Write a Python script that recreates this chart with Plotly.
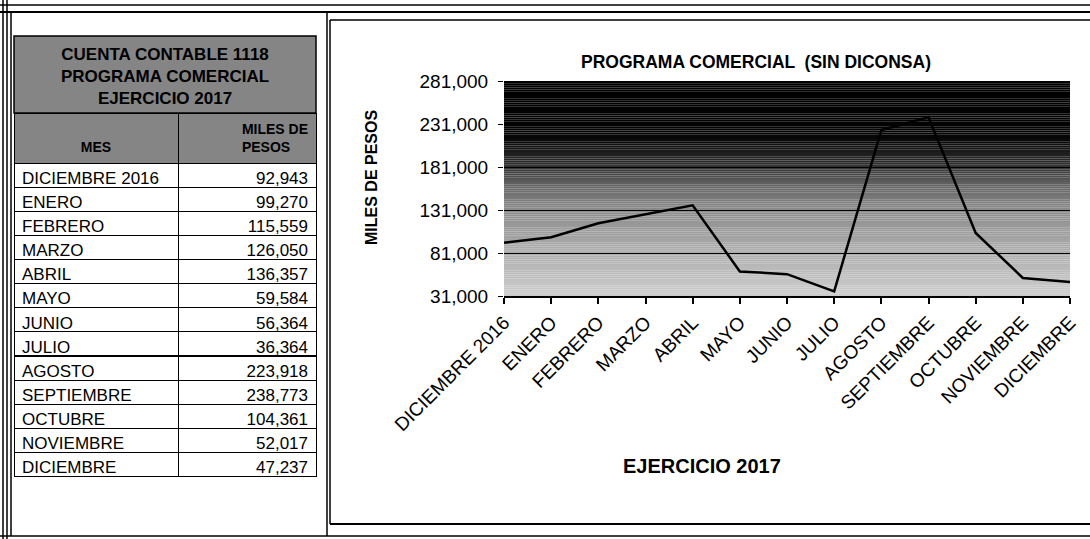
import plotly.graph_objects as go

W, H = 1090, 539

meses = ["DICIEMBRE 2016", "ENERO", "FEBRERO", "MARZO", "ABRIL", "MAYO", "JUNIO",
         "JULIO", "AGOSTO", "SEPTIEMBRE", "OCTUBRE", "NOVIEMBRE", "DICIEMBRE"]
miles_pesos = [92943, 99270, 115559, 126050, 136357, 59584, 56364,
               36364, 223918, 238773, 104361, 52017, 47237]
y_ticks = [31000, 81000, 131000, 181000, 231000, 281000]

FONT = "Liberation Sans, Arial, sans-serif"


def px(x):
    return x / W


def py(y):
    return 1 - y / H


fig = go.Figure()

# ---- table (left) ----
fig.add_trace(go.Table(
    domain=dict(x=[px(14), px(316)], y=[py(483), py(113)]),
    columnwidth=[164, 138],
    header=dict(
        values=["&nbsp;<br><b>MES</b>", "<b>MILES DE<br>PESOS</b>"],
        align=["center", "right"],
        fill_color="#858585",
        line=dict(color="black", width=1),
        font=dict(family=FONT, size=14, color="black"),
        height=47,
    ),
    cells=dict(
        values=[meses, [f"{v:,}" for v in miles_pesos]],
        align=["left", "right"],
        fill_color="white",
        line=dict(color="black", width=1),
        font=dict(family=FONT, size=17, color="black"),
        height=24.1,
    ),
))

# ---- line chart (right) ----
fig.add_trace(go.Scatter(
    x=list(range(len(meses))), y=miles_pesos, mode="lines",
    line=dict(color="black", width=2.5), showlegend=False, hoverinfo="skip",
))

fig.update_xaxes(
    domain=[px(504), px(1070)], range=[0, len(meses) - 1], automargin=False,
    tickvals=list(range(len(meses))), ticktext=meses, tickangle=-45,
    ticks="outside", ticklen=6, tickcolor="black", tickwidth=1.5,
    showline=True, linecolor="black", linewidth=2, showgrid=False, zeroline=False,
    tickfont=dict(family=FONT, size=19, color="black"),
)
fig.update_yaxes(
    domain=[py(296), py(81)], range=[31000, 281000], automargin=False,
    tickvals=y_ticks, tickformat=",d", ticklabelstandoff=6,
    ticks="outside", ticklen=5, tickcolor="black",
    showline=False, showgrid=True, gridcolor="black", gridwidth=1.2, zeroline=False,
    tickfont=dict(family=FONT, size=19, color="black"),
)

shapes = []
# gradient background of the plot area (decoration)
stops = [(31000, 205), (81000, 175), (131000, 140), (160000, 100),
         (185000, 45), (215000, 6), (281000, 0)]


def grey_at(v):
    for (a, ca), (b, cb) in zip(stops[:-1], stops[1:]):
        if a <= v <= b:
            t = (v - a) / (b - a)
            return int(round(ca + (cb - ca) * t))
    return 0


step = 2500
v = 31000
while v < 281000:
    g = grey_at(v + step / 2)
    shapes.append(dict(type="rect", xref="x domain", yref="y", x0=0, x1=1,
                       y0=v, y1=v + step, fillcolor=f"rgb({g},{g},{g})",
                       line=dict(width=0), layer="below"))
    v += step

# title block of the table
shapes.append(dict(type="rect", xref="paper", yref="paper", x0=px(14), x1=px(316),
                   y0=py(113), y1=py(36), fillcolor="#858585",
                   line=dict(color="black", width=1.5)))


def hline(y, x0, x1, w=1.5):
    shapes.append(dict(type="line", xref="paper", yref="paper", x0=px(x0), x1=px(x1),
                       y0=py(y), y1=py(y), line=dict(color="black", width=w)))


def vline(x, y0, y1, w=1.5):
    shapes.append(dict(type="line", xref="paper", yref="paper", x0=px(x), x1=px(x),
                       y0=py(y0), y1=py(y1), line=dict(color="black", width=w)))


# page frame lines
hline(5, 0, W, 1.5)
hline(12, 0, W, 2)
vline(3, 0, H, 1.5)
vline(7, 0, H, 1.5)
vline(11, 12, 536, 1.5)
vline(327, 12, 536, 1.5)
hline(536, 0, W, 1.5)
# chart frame
hline(20, 330, W, 1.5)
hline(524, 330, W, 2)
vline(330, 20, 524, 1.5)


def ann(text, x, y, size, angle=0):
    return dict(text=text, x=px(x), y=py(y), xref="paper", yref="paper",
                xanchor="center", yanchor="middle", showarrow=False,
                textangle=angle, align="center",
                font=dict(family=FONT, size=size, color="black"))


annotations = [
    ann("<b>CUENTA CONTABLE 1118<br>PROGRAMA COMERCIAL<br>EJERCICIO 2017</b>", 165, 76, 17),
    ann("<b>PROGRAMA COMERCIAL  (SIN DICONSA)</b>", 756, 62, 17.5),
    ann("<b>MILES DE PESOS</b>", 371, 178, 16, -90),
    ann("<b>EJERCICIO 2017</b>", 702, 466, 20),
]

fig.update_layout(
    width=W, height=H, margin=dict(l=0, r=0, t=0, b=0, autoexpand=False),
    paper_bgcolor="white", plot_bgcolor="white",
    shapes=shapes, annotations=annotations, showlegend=False,
)

fig.write_html("out.html", config={"displayModeBar": False},
               post_script="document.body.style.margin='0';")
